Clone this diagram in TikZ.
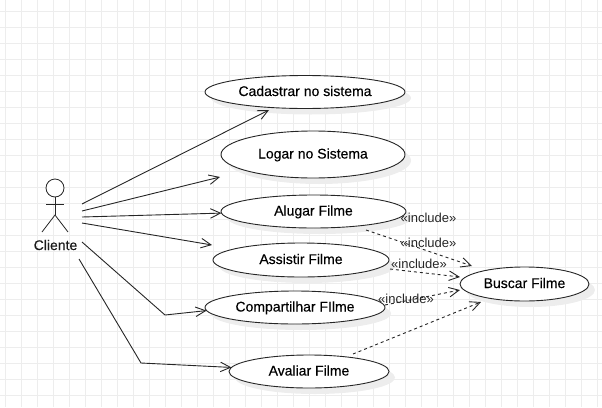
\documentclass[tikz,border=0pt]{standalone}
\usepackage{fontspec}
\setmainfont{Liberation Sans}
\newfontfamily\labelfont[FakeBold=0.25]{Liberation Sans}
\usepackage{tikz}
\usetikzlibrary{shadows,arrows.meta,shapes.geometric}

\begin{document}
\begin{tikzpicture}[
            x=1pt, y=-1pt,
            usecase/.style={ellipse, draw=black!85, fill=white, line width=0.9pt, inner sep=0pt, outer sep=0pt,
                minimum height=33pt, text height=10pt, text depth=2pt, font=\labelfont\fontsize{14}{16}\selectfont,
                drop shadow={shadow xshift=6pt, shadow yshift=-6pt, fill=black!7, opacity=1}},
            assoc/.style={draw=black!85, line width=0.9pt, -{Straight Barb[length=10pt,width=9.5pt]}},
            incl/.style={assoc, dash pattern=on 3pt off 3pt},
            stereo/.style={draw=none, fill=none, inner sep=0pt, text=black!85, font=\fontsize{13}{15}\selectfont},
            limb/.style={draw=black!85, line width=0.8pt},
            gridline/.style={draw=black!7, line width=1pt}
        ]
\useasboundingbox (0,0) rectangle (602,407);

% --- grid ---
            \foreach \gx in {5,21,...,597} \draw[gridline] (\gx,0)--(\gx,407);
            \foreach \gy in {11,27,...,395} \draw[gridline] (0,\gy)--(602,\gy);

% --- use cases ---
            \node[usecase, minimum width=200pt] (cadastrar) at (305,92) {Cadastrar no sistema};
            \node[usecase, minimum width=184pt, minimum height=47pt] (logar) at (313,154.5) {Logar no Sistema};
            \node[usecase, minimum width=185pt] (alugar) at (313.5,211.5) {Alugar Filme};
            \node[usecase, minimum width=176pt, minimum height=34pt] (assistir) at (301,260) {Assistir Filme};
            \node[usecase, minimum width=180pt] (compartilhar) at (295,307.5) {Compartilhar FIlme};
            \node[usecase, minimum width=160pt] (avaliar) at (309,371.5) {Avaliar Filme};
            \node[usecase, minimum width=129pt, minimum height=34pt] (buscar) at (524.5,284) {Buscar Filme};

% --- actor ---
            \node[circle, draw=black!85, fill=white, line width=0.8pt, minimum size=18pt, inner sep=0pt, outer sep=0pt] (head) at (55,188) {};
            \coordinate (hip) at (55,215);
            \coordinate (armL) at (46,204);
            \coordinate (armR) at (64,204);
            \coordinate (footL) at (42,232);
            \coordinate (footR) at (68,232);
            \draw[limb] (head)--(hip);
            \draw[limb] (armL)--(armR);
            \draw[limb] (footL)--(hip)--(footR);
            \node[font=\labelfont\fontsize{14}{16}\selectfont, inner sep=0pt, text=black!90] (cliente) at (55.5,245) {Cliente};

% --- free ends ---
            \coordinate (c1) at (82,204);
            \coordinate (c2) at (82,211);
            \coordinate (c3) at (82,217);
            \coordinate (c4) at (82,223);
            \coordinate (c5) at (82,242);
            \coordinate (c6) at (79,259);
            \coordinate (t1) at (269,110);
            \coordinate (t2) at (220,177);
            \coordinate (t4) at (212,245);
            \coordinate (k5) at (165,315);
            \coordinate (k6) at (141,363);
            \coordinate (i1) at (366,230);
            \coordinate (i2) at (390,269);
            \coordinate (i3) at (385,305);
            \coordinate (i4) at (353,354);
            \coordinate (b1) at (472,266);
            \coordinate (b2) at (460,277);
            \coordinate (b3) at (460,290);
            \coordinate (b4) at (481,302);

% --- associations ---
            \draw[assoc] (c1)--(t1);
            \draw[assoc] (c2)--(t2);
            \draw[assoc] (c3)--(alugar.181);
            \draw[assoc] (c4)--(t4);
            \draw[assoc] (c5)--(k5)--(compartilhar.182);
            \draw[assoc] (c6)--(k6)--(avaliar.177);

% --- include links ---
            \draw[incl] (i1)--(b1);
            \draw[incl] (i2)--(b2);
            \draw[incl] (i3)--(b3);
            \draw[incl] (i4)--(b4);

% --- stereotypes ---
            \node[stereo] (s1) at (428.5,218) {«include»};
            \node[stereo] (s2) at (428.5,243) {«include»};
            \node[stereo] (s3) at (419,264) {«include»};
            \node[stereo] (s4) at (406,299) {«include»};

        \end{tikzpicture}
\end{document}
